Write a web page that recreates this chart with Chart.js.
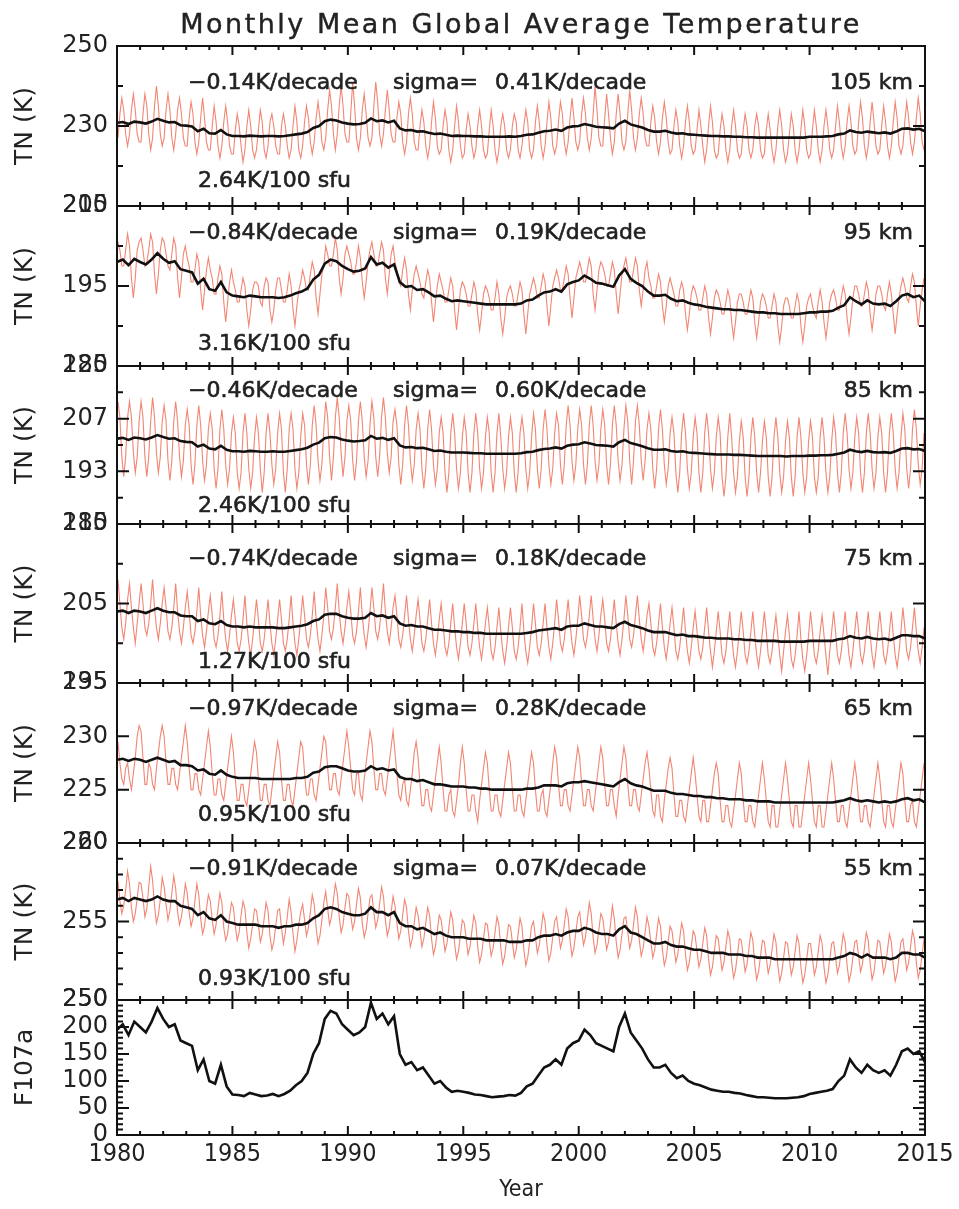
<!DOCTYPE html>
<html>
<head>
<meta charset="utf-8">
<script src="https://cdn.jsdelivr.net/npm/chart.js@4.4.0/dist/chart.umd.min.js"></script>
<style>
html, body { margin: 0; padding: 0; background: #fff; }
canvas { display: block; }
</style>
</head>
<body>
<canvas id="tnChart" width="959" height="1209"></canvas>
<script>
// panels, top to bottom
const altitudes = ['105 km', '95 km', '85 km', '75 km', '65 km', '55 km'];
const trendLabels = ['\u22120.14K/decade', '\u22120.84K/decade', '\u22120.46K/decade', '\u22120.74K/decade', '\u22120.97K/decade', '\u22120.91K/decade'];
const sigmaLabels = ['0.41K/decade', '0.19K/decade', '0.60K/decade', '0.18K/decade', '0.28K/decade', '0.07K/decade'];
const solarLabels = ['2.64K/100 sfu', '3.16K/100 sfu', '2.46K/100 sfu', '1.27K/100 sfu', '0.95K/100 sfu', '0.93K/100 sfu'];

// y tick labels per panel (last one is F107a)
const tickValues = [
  [210, 230, 250],
  [185, 195, 205],
  [180, 193.333, 206.667, 220],
  [195, 205, 215],
  [220, 225, 230, 235],
  [250, 255, 260],
  [0, 50, 100, 150, 200, 250]
];
const axisRanges = [[210, 250], [185, 205], [180, 220], [195, 215], [220, 235], [250, 260], [0, 250]];
const yearTicks = [1980, 1985, 1990, 1995, 2000, 2005, 2010, 2015];

// F10.7 81-day mean, quarterly from 1980.0
const f107a = [
  195, 205, 185, 210, 200, 190, 210, 235, 215, 200,
  205, 175, 170, 165, 120, 140, 100, 95, 130, 90,
  75, 74, 72, 78, 75, 72, 73, 76, 72, 76,
  82, 92, 100, 115, 150, 170, 215, 230, 225, 205,
  195, 185, 190, 200, 245, 215, 225, 205, 220, 150,
  130, 135, 120, 125, 110, 95, 100, 88, 80, 82,
  80, 78, 75, 74, 72, 70, 71, 72, 74, 73,
  78, 90, 95, 110, 125, 130, 140, 130, 160, 170,
  175, 195, 185, 170, 165, 160, 155, 200, 225, 190,
  175, 160, 140, 125, 125, 130, 115, 105, 110, 100,
  95, 92, 88, 84, 82, 80, 80, 78, 77, 74,
  72, 70, 70, 69, 68, 68, 68, 69, 70, 72,
  76, 78, 80, 82, 85, 100, 110, 140, 125, 115,
  130, 120, 115, 120, 110, 130, 155, 160, 150, 155,
  135
];

// black curves (fit), quarterly from 1980.0
const fit105 = [
  230.8, 231.0, 230.5, 231.1, 230.9, 230.6, 231.1, 231.8, 231.3, 230.9,
  231.0, 230.2, 230.1, 229.9, 228.7, 229.3, 228.2, 228.1, 229.0, 227.9,
  227.5, 227.5, 227.4, 227.6, 227.5, 227.4, 227.5, 227.5, 227.4, 227.5,
  227.7, 227.9, 228.1, 228.5, 229.5, 230.0, 231.2, 231.6, 231.4, 230.9,
  230.6, 230.4, 230.5, 230.8, 231.9, 231.2, 231.4, 230.9, 231.3, 229.4,
  228.9, 229.0, 228.6, 228.7, 228.3, 228.0, 228.1, 227.8, 227.5, 227.6,
  227.5, 227.5, 227.4, 227.4, 227.3, 227.3, 227.3, 227.3, 227.4, 227.3,
  227.5, 227.8, 227.9, 228.3, 228.7, 228.8, 229.1, 228.8, 229.6, 229.9,
  230.0, 230.5, 230.2, 229.8, 229.7, 229.6, 229.4, 230.6, 231.3, 230.4,
  230.0, 229.6, 229.0, 228.6, 228.6, 228.8, 228.4, 228.1, 228.2, 227.9,
  227.8, 227.7, 227.6, 227.5, 227.5, 227.4, 227.4, 227.3, 227.3, 227.2,
  227.2, 227.1, 227.1, 227.1, 227.1, 227.1, 227.1, 227.1, 227.1, 227.1,
  227.3, 227.3, 227.3, 227.4, 227.5, 227.9, 228.1, 228.9, 228.5, 228.3,
  228.6, 228.4, 228.2, 228.4, 228.1, 228.6, 229.3, 229.4, 229.1, 229.3,
  228.7
];
const fit95 = [
  198.0, 198.3, 197.6, 198.4, 198.0, 197.7, 198.3, 199.1, 198.4, 197.9,
  198.1, 197.1, 196.9, 196.7, 195.3, 195.9, 194.6, 194.4, 195.5, 194.2,
  193.8, 193.7, 193.6, 193.8, 193.7, 193.6, 193.6, 193.6, 193.5, 193.6,
  193.8, 194.1, 194.3, 194.7, 195.8, 196.4, 197.8, 198.3, 198.1, 197.5,
  197.1, 196.8, 196.9, 197.2, 198.6, 197.7, 197.9, 197.3, 197.7, 195.5,
  194.9, 195.0, 194.5, 194.6, 194.2, 193.7, 193.8, 193.4, 193.1, 193.2,
  193.1, 193.0, 192.9, 192.8, 192.7, 192.7, 192.7, 192.7, 192.7, 192.7,
  192.8, 193.2, 193.3, 193.8, 194.2, 194.3, 194.6, 194.3, 195.2, 195.5,
  195.7, 196.3, 195.9, 195.4, 195.3, 195.1, 194.9, 196.3, 197.1, 195.9,
  195.4, 195.0, 194.3, 193.8, 193.8, 193.9, 193.4, 193.1, 193.2, 192.9,
  192.7, 192.6, 192.4, 192.3, 192.2, 192.1, 192.1, 192.0, 192.0, 191.9,
  191.8, 191.7, 191.7, 191.6, 191.6, 191.5, 191.5, 191.5, 191.5, 191.6,
  191.7, 191.7, 191.8, 191.8, 191.9, 192.3, 192.6, 193.6, 193.1, 192.7,
  193.2, 192.8, 192.7, 192.8, 192.5, 193.1, 193.8, 194.0, 193.6, 193.8,
  193.1
];
const fit85 = [
  201.6, 201.8, 201.3, 201.9, 201.7, 201.4, 201.9, 202.5, 202.0, 201.6,
  201.7, 201.0, 200.8, 200.7, 199.6, 200.1, 199.1, 198.9, 199.8, 198.8,
  198.4, 198.4, 198.3, 198.5, 198.4, 198.3, 198.3, 198.4, 198.3, 198.3,
  198.5, 198.7, 198.9, 199.3, 200.1, 200.6, 201.7, 202.0, 201.9, 201.4,
  201.1, 200.9, 201.0, 201.2, 202.3, 201.6, 201.8, 201.3, 201.7, 199.9,
  199.4, 199.5, 199.2, 199.3, 198.9, 198.5, 198.6, 198.3, 198.1, 198.1,
  198.1, 198.0, 197.9, 197.9, 197.8, 197.8, 197.8, 197.8, 197.8, 197.8,
  197.9, 198.2, 198.3, 198.7, 199.0, 199.1, 199.4, 199.1, 199.8, 200.1,
  200.2, 200.7, 200.4, 200.0, 199.9, 199.8, 199.6, 200.7, 201.3, 200.5,
  200.1, 199.7, 199.2, 198.8, 198.8, 198.9, 198.5, 198.3, 198.4, 198.1,
  198.0, 197.9, 197.8, 197.7, 197.6, 197.6, 197.6, 197.5, 197.5, 197.4,
  197.3, 197.2, 197.2, 197.2, 197.2, 197.2, 197.1, 197.2, 197.2, 197.2,
  197.3, 197.3, 197.4, 197.4, 197.5, 197.8, 198.1, 198.8, 198.4, 198.2,
  198.5, 198.2, 198.1, 198.2, 198.0, 198.5, 199.1, 199.2, 198.9, 199.0,
  198.5
];
const fit75 = [
  204.0, 204.1, 203.8, 204.1, 204.0, 203.8, 204.1, 204.4, 204.1, 203.9,
  203.9, 203.5, 203.4, 203.4, 202.8, 203.0, 202.5, 202.4, 202.8, 202.3,
  202.1, 202.1, 202.0, 202.1, 202.0, 202.0, 202.0, 202.0, 201.9, 201.9,
  202.0, 202.1, 202.2, 202.4, 202.8, 203.0, 203.6, 203.7, 203.7, 203.4,
  203.2, 203.1, 203.1, 203.2, 203.8, 203.4, 203.5, 203.2, 203.4, 202.5,
  202.2, 202.3, 202.1, 202.1, 201.9, 201.7, 201.7, 201.6, 201.5, 201.5,
  201.4, 201.4, 201.3, 201.3, 201.2, 201.2, 201.2, 201.2, 201.2, 201.2,
  201.2, 201.3, 201.4, 201.6, 201.7, 201.8, 201.9, 201.7, 202.1, 202.2,
  202.2, 202.5, 202.3, 202.1, 202.1, 202.0, 201.9, 202.4, 202.7, 202.3,
  202.1, 201.9, 201.6, 201.4, 201.4, 201.4, 201.2, 201.0, 201.1, 200.9,
  200.9, 200.8, 200.7, 200.7, 200.6, 200.6, 200.6, 200.5, 200.5, 200.4,
  200.4, 200.3, 200.3, 200.3, 200.3, 200.2, 200.2, 200.2, 200.2, 200.2,
  200.3, 200.3, 200.3, 200.3, 200.3, 200.5, 200.6, 200.9, 200.7, 200.6,
  200.8, 200.6, 200.5, 200.6, 200.4, 200.7, 201.0, 201.0, 200.9, 200.9,
  200.6
];
const fit65 = [
  227.8, 227.9, 227.7, 227.9, 227.8, 227.6, 227.8, 228.0, 227.8, 227.6,
  227.7, 227.3, 227.3, 227.2, 226.8, 226.9, 226.5, 226.4, 226.8, 226.4,
  226.2, 226.1, 226.1, 226.1, 226.1, 226.0, 226.0, 226.0, 226.0, 226.0,
  226.0, 226.1, 226.1, 226.2, 226.6, 226.7, 227.1, 227.2, 227.2, 227.0,
  226.8, 226.7, 226.7, 226.8, 227.2, 226.9, 227.0, 226.8, 226.9, 226.2,
  226.0, 226.0, 225.8, 225.9, 225.7, 225.5, 225.5, 225.4, 225.3, 225.3,
  225.3, 225.2, 225.2, 225.1, 225.1, 225.0, 225.0, 225.0, 225.0, 225.0,
  225.0, 225.1, 225.1, 225.2, 225.4, 225.4, 225.4, 225.3, 225.6, 225.7,
  225.7, 225.8, 225.7, 225.6, 225.5, 225.4, 225.3, 225.7, 226.0, 225.6,
  225.4, 225.3, 225.1, 224.9, 224.9, 224.9, 224.7, 224.6, 224.6, 224.5,
  224.4, 224.4, 224.3, 224.3, 224.2, 224.2, 224.1, 224.1, 224.1, 224.0,
  224.0, 223.9, 223.9, 223.9, 223.8, 223.8, 223.8, 223.8, 223.8, 223.8,
  223.8, 223.8, 223.8, 223.8, 223.8, 223.9, 224.0, 224.2, 224.0, 223.9,
  224.0, 223.9, 223.8, 223.9, 223.8, 223.9, 224.1, 224.2, 224.0, 224.1,
  223.8
];
const fit55 = [
  256.4, 256.5, 256.3, 256.5, 256.4, 256.3, 256.4, 256.6, 256.4, 256.3,
  256.3, 256.0, 255.9, 255.8, 255.4, 255.6, 255.2, 255.1, 255.4, 255.0,
  254.9, 254.8, 254.8, 254.8, 254.8, 254.7, 254.7, 254.7, 254.6, 254.7,
  254.7, 254.8, 254.8, 254.9, 255.2, 255.4, 255.8, 255.9, 255.8, 255.6,
  255.5, 255.4, 255.4, 255.5, 255.9, 255.6, 255.6, 255.4, 255.6, 254.9,
  254.7, 254.7, 254.5, 254.6, 254.4, 254.2, 254.3, 254.1, 254.0, 254.0,
  254.0, 253.9, 253.9, 253.9, 253.8, 253.8, 253.8, 253.8, 253.7, 253.7,
  253.7, 253.8, 253.8, 254.0, 254.1, 254.1, 254.2, 254.1, 254.3, 254.4,
  254.4, 254.6, 254.5, 254.3, 254.2, 254.2, 254.1, 254.5, 254.7, 254.3,
  254.2, 254.0, 253.8, 253.6, 253.6, 253.7, 253.5, 253.4, 253.4, 253.3,
  253.2, 253.2, 253.1, 253.0, 253.0, 253.0, 252.9, 252.9, 252.9, 252.8,
  252.8, 252.7, 252.7, 252.7, 252.6, 252.6, 252.6, 252.6, 252.6, 252.6,
  252.6, 252.6, 252.6, 252.6, 252.6, 252.7, 252.8, 253.0, 252.9, 252.7,
  252.9, 252.7, 252.7, 252.7, 252.6, 252.7, 253.0, 253.0, 252.9, 252.9,
  252.7
];

// red curves: monthly means, Jan 1980 .. Dec 2014, one row per year
const monthly105 = [
  227, 233, 237, 234, 228, 225, 228, 234, 238, 234, 228, 226,
  226, 233, 238, 235, 228, 224, 227, 235, 240, 235, 228, 225,
  227, 234, 238, 234, 227, 224, 228, 234, 237, 233, 227, 225,
  225, 232, 236, 233, 226, 223, 226, 232, 237, 232, 226, 224,
  224, 230, 235, 231, 225, 222, 225, 231, 235, 231, 225, 223,
  223, 229, 233, 230, 225, 221, 224, 230, 234, 230, 224, 222,
  224, 229, 234, 231, 224, 222, 225, 231, 233, 230, 225, 223,
  223, 230, 233, 230, 225, 222, 224, 230, 235, 231, 224, 222,
  225, 231, 235, 232, 226, 223, 226, 232, 236, 232, 226, 224,
  227, 234, 239, 235, 228, 224, 228, 235, 240, 235, 228, 226,
  226, 233, 241, 235, 227, 224, 227, 234, 238, 233, 227, 225,
  227, 235, 241, 236, 228, 225, 228, 234, 239, 234, 228, 226,
  226, 232, 236, 233, 226, 223, 226, 233, 237, 233, 226, 224,
  224, 230, 234, 231, 225, 222, 225, 231, 236, 232, 225, 223,
  224, 230, 234, 231, 224, 221, 224, 230, 235, 231, 225, 222,
  223, 229, 233, 230, 225, 222, 224, 230, 234, 230, 224, 222,
  223, 229, 234, 230, 224, 221, 224, 230, 233, 230, 224, 222,
  224, 230, 233, 231, 224, 222, 225, 230, 234, 231, 224, 222,
  224, 231, 235, 231, 225, 222, 225, 231, 236, 232, 225, 223,
  225, 231, 236, 233, 226, 223, 226, 232, 237, 232, 226, 224,
  226, 233, 237, 233, 227, 224, 227, 233, 240, 234, 227, 225,
  225, 232, 238, 233, 227, 223, 226, 233, 238, 233, 226, 224,
  226, 233, 239, 234, 227, 224, 227, 233, 237, 233, 227, 225,
  225, 231, 235, 232, 226, 223, 226, 232, 236, 232, 226, 223,
  224, 230, 234, 231, 225, 222, 225, 231, 235, 231, 225, 223,
  224, 229, 234, 230, 225, 221, 224, 230, 235, 231, 224, 222,
  223, 229, 233, 230, 224, 221, 224, 230, 234, 230, 224, 222,
  223, 229, 233, 230, 224, 222, 224, 230, 233, 230, 224, 222,
  223, 229, 233, 229, 224, 221, 224, 230, 234, 230, 224, 221,
  223, 228, 233, 230, 224, 221, 224, 229, 234, 230, 224, 222,
  223, 229, 234, 230, 224, 221, 224, 230, 234, 230, 224, 222,
  224, 230, 235, 231, 225, 222, 225, 231, 235, 231, 225, 223,
  224, 231, 236, 232, 225, 222, 225, 231, 236, 231, 225, 223,
  224, 230, 235, 231, 225, 222, 225, 231, 236, 232, 225, 223,
  225, 231, 236, 232, 226, 223, 226, 232, 237, 233, 226, 224
];
const monthly95 = [
  200.5, 199.5, 197.5, 197.5, 199.5, 201.5, 200, 196, 193.5, 196, 199.5, 200.5,
  201, 199.5, 197.5, 198, 199.5, 201.5, 200.5, 196.5, 194, 196.5, 199.5, 201,
  200.5, 199, 197.5, 197, 199, 201, 200, 196, 193.5, 196, 199, 200,
  198.5, 197.5, 195.5, 195.5, 197, 199, 198, 194.5, 192, 194.5, 197, 198.5,
  197, 196, 194, 194, 196, 197.5, 196.5, 193, 190.5, 193, 195.5, 197,
  195.5, 194.5, 193, 193, 194.5, 196, 195, 192, 190, 192, 194.5, 195.5,
  195.5, 195, 193, 192.5, 195, 196, 195.5, 192, 190.5, 192, 194.5, 196,
  196, 194.5, 193, 193, 194.5, 196.5, 195, 192, 190, 192.5, 194.5, 195.5,
  197, 196, 194.5, 194.5, 196.5, 198, 197, 193.5, 191.5, 194, 196.5, 197.5,
  200, 199, 197.5, 197.5, 199, 201, 199.5, 196, 194, 196, 199, 200,
  199, 198, 196.5, 196.5, 198, 200, 198.5, 195.5, 193.5, 195.5, 198, 199.5,
  200.5, 199, 197.5, 197.5, 199, 200.5, 199.5, 196, 194, 196.5, 199, 200,
  198, 197, 195.5, 195, 197, 198.5, 197, 194, 192, 194.5, 196.5, 197.5,
  196.5, 195.5, 194, 193.5, 195.5, 197, 196, 193, 190.5, 193, 195, 196.5,
  195.5, 194.5, 193, 193, 194.5, 196, 195, 192, 189.5, 192, 194.5, 195.5,
  195, 194, 192.5, 192.5, 194, 195.5, 194.5, 191.5, 189.5, 191.5, 194, 195,
  194.5, 193.5, 192, 192, 193.5, 195.5, 194, 191, 189, 191, 193.5, 194.5,
  195, 194, 192.5, 192.5, 194, 195.5, 194.5, 191.5, 189, 191.5, 194, 195,
  196, 195, 193.5, 193.5, 195, 196.5, 195.5, 192.5, 190, 192.5, 195, 196,
  197, 196, 194.5, 194.5, 196, 197.5, 196.5, 193.5, 191, 193.5, 196, 197,
  198, 197, 195.5, 195.5, 197, 198.5, 197.5, 194, 192, 194.5, 197, 198,
  197.5, 196.5, 195, 195, 196.5, 198, 197, 194, 191.5, 194, 196.5, 197.5,
  198.5, 197, 195.5, 195.5, 197, 198.5, 197.5, 194.5, 192.5, 194.5, 197, 198,
  196, 195, 193.5, 193.5, 195, 196.5, 195.5, 192.5, 190.5, 192.5, 195, 196,
  195, 194, 192.5, 192.5, 194.5, 195.5, 194.5, 191.5, 189.5, 191.5, 194, 195,
  194.5, 193.5, 192, 192, 193.5, 195, 194, 191, 189, 191, 193.5, 194.5,
  194, 193, 191.5, 191.5, 193, 194.5, 193.5, 190.5, 188.5, 190.5, 193, 194,
  194, 193, 191.5, 191.5, 193, 194.5, 193.5, 190.5, 188.5, 190.5, 193, 194,
  193.5, 192.5, 191, 191, 192.5, 194, 193, 190, 188, 190, 192.5, 193.5,
  193.5, 192.5, 191, 191, 192.5, 194, 193, 190, 188, 190, 192.5, 193.5,
  194, 192.5, 191.5, 191, 193, 194.5, 193, 190.5, 188.5, 190.5, 193, 194,
  194.5, 193.5, 192, 192, 193.5, 195, 194, 191, 189, 191, 193.5, 195,
  195, 194, 192.5, 192.5, 194, 195.5, 194.5, 191.5, 189.5, 191.5, 194, 195,
  195, 194, 192.5, 192, 194, 195.5, 194, 191.5, 189, 191.5, 193.5, 195,
  196, 195, 193.5, 193, 195, 196.5, 195.5, 192.5, 190, 192.5, 194.5, 196
];
const monthly85 = [
  211, 207, 197, 192, 197, 207, 211, 207, 198, 193, 197, 206,
  211, 207, 197, 192, 197, 206, 212, 207, 198, 193, 197, 206,
  210, 206, 196, 191, 196, 206, 211, 206, 197, 192, 196, 205,
  209, 205, 195, 190, 195, 205, 210, 205, 196, 191, 195, 204,
  208, 204, 194, 189, 194, 204, 209, 204, 195, 190, 194, 203,
  207, 203, 193, 189, 193, 203, 208, 203, 194, 189, 193, 202,
  207, 203, 194, 188, 193, 203, 208, 203, 195, 190, 194, 203,
  208, 204, 193, 188, 194, 204, 208, 204, 194, 189, 193, 202,
  208, 205, 195, 190, 195, 205, 210, 205, 196, 191, 195, 204,
  211, 207, 197, 191, 197, 207, 212, 207, 198, 192, 197, 206,
  210, 206, 196, 191, 196, 206, 211, 206, 197, 192, 196, 205,
  211, 207, 197, 192, 197, 207, 212, 207, 198, 193, 197, 206,
  209, 205, 195, 190, 195, 205, 210, 205, 196, 191, 195, 204,
  208, 204, 194, 189, 194, 204, 209, 204, 195, 190, 194, 203,
  207, 203, 193, 188, 193, 203, 208, 203, 194, 189, 193, 202,
  207, 203, 193, 188, 193, 203, 208, 203, 194, 189, 193, 202,
  207, 203, 193, 188, 193, 203, 208, 202, 194, 189, 193, 202,
  207, 203, 193, 188, 193, 203, 207, 203, 194, 189, 193, 202,
  208, 204, 194, 189, 194, 204, 209, 204, 195, 190, 194, 203,
  208, 205, 195, 190, 195, 205, 210, 205, 196, 191, 195, 204,
  209, 205, 195, 190, 195, 205, 210, 205, 196, 191, 195, 204,
  209, 205, 195, 190, 195, 205, 210, 205, 196, 191, 195, 204,
  210, 206, 196, 190, 196, 206, 210, 205, 196, 191, 196, 204,
  208, 204, 194, 189, 194, 204, 209, 204, 195, 190, 194, 203,
  207, 203, 193, 188, 193, 203, 208, 203, 194, 189, 193, 202,
  207, 203, 193, 188, 193, 203, 208, 203, 194, 189, 193, 202,
  207, 203, 192, 187, 192, 202, 208, 202, 193, 188, 192, 201,
  206, 202, 192, 187, 192, 202, 207, 202, 193, 188, 193, 201,
  206, 202, 192, 187, 192, 202, 207, 202, 193, 188, 192, 201,
  206, 202, 192, 187, 192, 202, 207, 202, 193, 188, 192, 201,
  206, 202, 192, 188, 192, 202, 207, 202, 193, 188, 192, 201,
  207, 203, 193, 188, 193, 203, 208, 203, 194, 189, 193, 202,
  207, 203, 193, 188, 193, 203, 208, 203, 194, 189, 193, 202,
  207, 203, 193, 188, 193, 203, 208, 203, 194, 189, 193, 202,
  208, 204, 194, 189, 194, 204, 209, 204, 195, 190, 194, 203
];
const monthly75 = [
  208, 205, 202, 200.5, 202.5, 205.5, 207.5, 204.5, 202, 200, 202.5, 205,
  207.5, 205, 202, 201, 202.5, 205, 208, 204.5, 202, 200.5, 202.5, 205,
  207, 204.5, 201.5, 200.5, 202, 204.5, 207.5, 204, 201.5, 200, 202, 204.5,
  206.5, 204, 201, 200, 201.5, 204, 207, 203.5, 201, 199.5, 201.5, 204,
  206, 203.5, 200.5, 199.5, 201, 203.5, 206.5, 203, 200.5, 199, 201, 203.5,
  205.5, 203, 200, 199, 200.5, 203, 206, 202.5, 200, 198.5, 200.5, 203,
  205.5, 203, 200, 199, 200.5, 203, 205.5, 202.5, 200, 198.5, 200.5, 203,
  205.5, 203, 200, 199, 200.5, 203, 206, 202.5, 200, 198.5, 200.5, 203,
  206, 203.5, 200.5, 199.5, 201, 203.5, 206.5, 203, 200.5, 199, 201, 203.5,
  207, 204.5, 201.5, 200.5, 202, 204.5, 207.5, 204, 201.5, 200, 202, 204.5,
  206.5, 204, 201, 200, 201.5, 204, 207, 203.5, 201, 199.5, 201.5, 204,
  207, 204.5, 201.5, 200.5, 202, 204.5, 207.5, 204, 201.5, 200, 202, 204.5,
  206, 203.5, 200.5, 199.5, 201, 203.5, 206, 203, 200.5, 199, 201, 203.5,
  205.5, 203, 200, 199, 200.5, 203, 205.5, 202.5, 200, 198.5, 200.5, 203,
  205, 202.5, 199.5, 198.5, 200, 202.5, 205, 202, 199.5, 198, 200, 202.5,
  205, 202.5, 199.5, 198.5, 200, 202.5, 205, 202, 199.5, 198, 200, 202.5,
  204.5, 202, 199, 198, 199.5, 202, 204.5, 201.5, 199, 197.5, 199.5, 202,
  204.5, 202, 199, 198, 199.5, 202, 205, 201.5, 199, 197.5, 199.5, 202,
  205, 202.5, 199.5, 198.5, 200, 202.5, 205, 202, 199.5, 198, 200, 202.5,
  205.5, 203, 200, 199, 200.5, 203, 205.5, 202.5, 200, 198.5, 200.5, 203,
  206, 203.5, 200.5, 199.5, 201, 203.5, 206, 203, 200.5, 199, 201, 203.5,
  205.5, 203, 200, 199, 200.5, 203, 205.5, 202.5, 200, 198.5, 200.5, 203,
  206, 203.5, 200.5, 199.5, 201, 203.5, 206, 203, 200.5, 199, 201, 203.5,
  205, 202.5, 199.5, 198.5, 200, 202.5, 205, 202, 199.5, 198, 200, 202.5,
  204.5, 202, 199, 198, 199.5, 202, 204.5, 201.5, 199, 197.5, 199.5, 202,
  204, 201.5, 199, 198, 199.5, 202, 204.5, 201.5, 199, 197, 199, 201.5,
  204, 201.5, 198.5, 197.5, 199, 201.5, 204, 201, 198.5, 197, 199, 201.5,
  204, 201.5, 198.5, 197.5, 199, 201.5, 204, 201, 198.5, 197, 199, 201.5,
  204, 201.5, 198.5, 197.5, 199, 201.5, 203.5, 201, 198.5, 196.5, 199, 201.5,
  203.5, 201, 198, 197, 198.5, 201, 204, 200.5, 198, 196.5, 198.5, 201,
  204, 201.5, 198.5, 197.5, 199, 201.5, 203.5, 201, 198.5, 196, 199, 201.5,
  204, 201.5, 198.5, 197.5, 199, 201.5, 204, 201, 198.5, 197, 199, 201.5,
  204, 201.5, 198.5, 197.5, 199, 201.5, 204, 201, 198.5, 197, 199, 201.5,
  204, 201.5, 198.5, 197.5, 199, 201.5, 204, 201, 198.5, 197, 199, 201.5,
  204.5, 202, 199, 198, 199.5, 202, 204.5, 201.5, 199, 197.5, 199.5, 202
];
const monthly65 = [
  229.5, 227.5, 226, 225.5, 227, 227.5, 226, 225, 226.5, 228, 230, 231,
  230.5, 228, 225.5, 225.5, 227.5, 227, 225.5, 225, 227, 228.5, 230, 231,
  230, 227.5, 225.5, 225.5, 227, 227, 225.5, 225, 226.5, 228, 229.5, 231,
  229.5, 227, 225, 225, 226.5, 226.5, 225, 224.5, 226, 227.5, 229, 230.5,
  229, 226.5, 224.5, 224.5, 226, 226, 224.5, 224, 225.5, 227, 228.5, 230,
  228.5, 226, 224, 224, 225.5, 225.5, 224, 223.5, 225, 226.5, 228, 229.5,
  228.5, 226, 224, 224, 225.5, 225.5, 224, 223.5, 225, 226.5, 228, 229.5,
  228.5, 226, 224, 224, 225.5, 225.5, 224, 223.5, 225, 226.5, 228, 229.5,
  229, 226.5, 224.5, 224.5, 226, 226, 224.5, 224, 225.5, 227, 228.5, 230,
  229.5, 227, 225, 225, 226.5, 226.5, 225, 224.5, 226, 227.5, 229, 230.5,
  229, 227, 225, 224.5, 226.5, 226.5, 224.5, 224, 226, 227.5, 229, 230.5,
  229.5, 227, 225, 225, 226.5, 226.5, 225, 224.5, 226, 227.5, 229, 230.5,
  228.5, 226.5, 224.5, 224, 225.5, 226, 224, 223.5, 225, 226.5, 228.5, 229.5,
  228, 225.5, 223.5, 223.5, 225, 225, 223.5, 223, 224.5, 226, 227.5, 229,
  227.5, 225, 223, 223, 224.5, 225, 223, 222.5, 224, 225.5, 227.5, 229,
  227.5, 225, 223, 223, 224.5, 224.5, 223, 222, 224, 225.5, 227, 228.5,
  227.5, 225, 223, 223, 224.5, 224.5, 223, 222.5, 224, 225.5, 227, 228.5,
  227.5, 225, 223, 223, 224.5, 224.5, 223, 222.5, 224, 225.5, 227, 228.5,
  227.5, 225, 223, 223, 224.5, 225, 223, 222.5, 224, 225.5, 227.5, 229,
  228, 225.5, 223.5, 223.5, 225, 225, 223.5, 223, 224.5, 226, 227.5, 229,
  228, 225.5, 223.5, 223.5, 225, 225, 223.5, 223, 224.5, 226, 227.5, 229,
  228, 225.5, 223.5, 223.5, 225, 225, 223.5, 222.5, 224.5, 226, 227.5, 229,
  228, 225.5, 223.5, 223.5, 225, 225, 223.5, 223, 224.5, 226, 227.5, 228.5,
  227, 225, 223, 222.5, 224.5, 224.5, 222.5, 222, 224, 225.5, 227, 228,
  227, 224.5, 222.5, 222.5, 224, 224, 222.5, 222, 223.5, 225, 226.5, 228,
  226.5, 224.5, 222.5, 222, 224, 224, 222, 222, 223.5, 225, 226.5, 227.5,
  226.5, 224, 222, 222, 223.5, 223.5, 222, 221.5, 223, 224.5, 226, 227.5,
  226.5, 224, 222, 222, 223.5, 223.5, 222, 221.5, 223, 224.5, 226, 227.5,
  226, 224, 222, 221.5, 223.5, 223.5, 221.5, 221.5, 223, 224.5, 226, 227.5,
  226, 224, 222, 221.5, 223.5, 223.5, 221.5, 221.5, 223, 224.5, 226, 227.5,
  226, 224, 222, 221.5, 223.5, 223.5, 221.5, 221.5, 223, 224.5, 226, 227.5,
  226, 224, 222, 222, 223.5, 223.5, 222, 221.5, 223, 224.5, 226, 227.5,
  226, 224, 222, 222, 223.5, 223.5, 222, 221.5, 223, 224.5, 226, 227.5,
  226, 224, 222, 221.5, 223.5, 223.5, 222, 221.5, 223, 224.5, 226, 227.5,
  226.5, 224, 222, 222, 223.5, 224, 222, 221.5, 223, 224.5, 226, 227.5
];
const monthly55 = [
  257.6, 256.3, 255.5, 256.0, 257.0, 258.2, 257.4, 255.9, 255.0, 255.5, 256.5, 257.5,
  257.4, 256.5, 255.3, 255.8, 257.2, 258.5, 257.6, 256.0, 254.9, 255.4, 256.4, 257.8,
  257.2, 256.1, 255.1, 255.7, 256.8, 257.9, 257.1, 255.6, 254.8, 255.3, 256.2, 257.4,
  256.8, 255.6, 254.7, 255.2, 256.3, 257.4, 256.7, 255.2, 254.2, 254.7, 255.8, 256.7,
  256.3, 255.1, 254.2, 254.8, 255.8, 256.8, 256.2, 254.6, 253.8, 254.2, 255.3, 256.2,
  255.9, 254.7, 253.8, 254.3, 255.4, 256.3, 255.8, 254.3, 253.3, 253.9, 254.8, 255.8,
  255.7, 254.8, 253.7, 254.2, 255.2, 256.2, 255.7, 254.1, 253.2, 253.7, 254.7, 255.7,
  255.8, 254.6, 253.6, 254.3, 255.3, 256.4, 255.6, 254.2, 253.1, 253.8, 254.8, 255.6,
  256.1, 255.1, 254.1, 254.6, 255.6, 256.7, 256.1, 254.6, 253.6, 254.1, 255.1, 256.2,
  256.9, 255.8, 254.8, 255.3, 256.4, 257.4, 256.8, 255.3, 254.3, 254.8, 255.9, 256.8,
  256.6, 255.4, 254.5, 255.0, 256.1, 257.1, 256.5, 254.9, 254.0, 254.5, 255.5, 256.5,
  256.7, 255.6, 254.6, 255.1, 256.1, 257.2, 256.6, 255.1, 254.1, 254.6, 255.6, 256.6,
  256.0, 254.9, 253.9, 254.4, 255.4, 256.4, 255.9, 254.4, 253.4, 253.9, 254.9, 255.9,
  255.4, 254.4, 253.4, 253.9, 254.9, 255.9, 255.4, 253.9, 252.9, 253.4, 254.4, 255.4,
  255.1, 254.1, 253.1, 253.6, 254.6, 255.6, 255.1, 253.6, 252.6, 253.1, 254.1, 255.1,
  254.9, 253.9, 252.9, 253.4, 254.4, 255.4, 254.9, 253.4, 252.4, 252.9, 253.9, 254.9,
  254.8, 253.8, 252.8, 253.3, 254.3, 255.3, 254.8, 253.3, 252.3, 252.8, 253.8, 254.8,
  254.7, 253.7, 252.7, 253.2, 254.2, 255.2, 254.7, 253.2, 252.2, 252.7, 253.7, 254.7,
  255.0, 254.0, 253.0, 253.5, 254.5, 255.5, 255.0, 253.5, 252.5, 253.0, 254.0, 255.0,
  255.3, 254.3, 253.3, 253.8, 254.8, 255.8, 255.3, 253.8, 252.8, 253.3, 254.3, 255.3,
  255.6, 254.5, 253.5, 254.0, 255.1, 256.2, 255.5, 254.0, 253.0, 253.5, 254.5, 255.5,
  255.2, 254.2, 253.2, 253.7, 254.8, 256.0, 255.2, 253.7, 252.7, 253.2, 254.2, 255.2,
  255.3, 254.3, 253.3, 253.8, 254.8, 255.9, 255.3, 253.8, 252.8, 253.3, 254.3, 255.3,
  254.7, 253.7, 252.7, 253.2, 254.2, 255.2, 254.7, 253.2, 252.2, 252.7, 253.7, 254.7,
  254.4, 253.4, 252.4, 252.9, 253.9, 254.9, 254.4, 252.9, 251.9, 252.4, 253.4, 254.4,
  254.1, 253.1, 252.1, 252.6, 253.6, 254.6, 254.1, 252.6, 251.6, 252.1, 253.1, 254.1,
  253.9, 252.9, 251.9, 252.4, 253.4, 254.4, 253.9, 252.4, 251.4, 251.9, 252.9, 253.9,
  253.8, 252.8, 251.8, 252.3, 253.3, 254.3, 253.8, 252.3, 251.3, 251.8, 252.8, 253.8,
  253.7, 252.7, 251.7, 252.2, 253.2, 254.2, 253.7, 252.2, 251.2, 251.7, 252.7, 253.7,
  253.6, 252.6, 251.6, 252.1, 253.1, 254.1, 253.6, 252.1, 251.1, 251.6, 252.6, 253.6,
  253.6, 252.6, 251.6, 252.1, 253.1, 254.1, 253.6, 252.1, 251.1, 251.6, 252.6, 253.6,
  253.7, 252.7, 251.7, 252.2, 253.2, 254.2, 253.7, 252.2, 251.2, 251.7, 252.7, 253.7,
  253.8, 252.8, 251.8, 252.3, 253.3, 254.3, 253.8, 252.3, 251.3, 251.8, 252.8, 253.8,
  253.7, 252.7, 251.7, 252.2, 253.2, 254.2, 253.7, 252.2, 251.2, 251.7, 252.7, 253.7,
  253.9, 252.9, 251.9, 252.4, 253.4, 254.4, 253.9, 252.4, 251.4, 251.9, 252.9, 253.9
];

const monthlySeries = [monthly105, monthly95, monthly85, monthly75, monthly65, monthly55];
const fitSeries = [fit105, fit95, fit85, fit75, fit65, fit55];

const axisIds = ['y105', 'y95', 'y85', 'y75', 'y65', 'y55', 'yF'];
const panelWeight = [160, 160, 158, 159, 160, 157, 135];
const minorStep = [10, 5, 20 / 3, 5, 5, 1, 10];
const topTextOffset = [37, 27, 25, 35, 26, 26];
const bottomTextOffset = [25, 22, 18, 21, 28, 21];

function monthlyPoints(arr) { return arr.map((v, i) => ({ x: 1980 + (i + 0.5) / 12, y: v })); }
function quarterPoints(arr) { return arr.map((v, i) => ({ x: 1980 + i / 4, y: v })); }

const datasets = [];
fitSeries.forEach((s, p) => datasets.push({
  data: quarterPoints(s), yAxisID: axisIds[p], borderColor: '#111', borderWidth: 2.6, order: 0
}));
datasets.push({ data: quarterPoints(f107a), yAxisID: 'yF', borderColor: '#111', borderWidth: 2.6, order: 0 });
monthlySeries.forEach((s, p) => datasets.push({
  data: monthlyPoints(s), yAxisID: axisIds[p], borderColor: 'rgba(240,112,90,0.85)', borderWidth: 1.1, order: 1
}));

const scales = {
  x: {
    type: 'linear', position: 'bottom', min: 1980, max: 2015,
    grid: { display: false, drawTicks: false }, border: { display: false },
    afterBuildTicks: s => { s.ticks = yearTicks.map(v => ({ value: v })); },
    afterFit: s => { s.height = 74; },
    ticks: {
      padding: 4, autoSkip: false, maxRotation: 0, color: '#222',
      font: { family: "'Liberation Sans Narrow', 'DejaVu Sans Condensed', 'DejaVu Sans'", size: 25 },
      callback: v => String(v)
    },
    title: {
      display: true, text: 'Year', color: '#222',
      font: { family: "'Liberation Sans Narrow', 'DejaVu Sans Condensed', 'DejaVu Sans'", size: 23 },
      padding: { top: 0, bottom: 5 }
    }
  }
};
// stacked y axes, defined bottom to top
for (let p = 6; p >= 0; p--) {
  scales[axisIds[p]] = {
    type: 'linear', position: 'left', stack: 'panels', stackWeight: panelWeight[p],
    min: axisRanges[p][0], max: axisRanges[p][1],
    grid: { display: false, drawTicks: false }, border: { display: false },
    afterBuildTicks: s => { s.ticks = tickValues[p].map(v => ({ value: v })); },
    afterFit: s => { s.width = 117; },
    ticks: {
      padding: 9, autoSkip: false, color: '#222',
      font: { family: 'DejaVu Sans', size: 24 },
      callback: v => String(Math.round(v))
    },
    title: {
      display: true, text: p < 6 ? 'TN (K)' : 'F107a', color: '#222',
      font: { family: 'DejaVu Sans', size: 25 },
      padding: { top: 10, bottom: 0 }
    }
  };
}

const panelDecor = {
  id: 'panelDecor',
  afterDatasetsDraw(chart) {
    const { ctx, chartArea: area, scales: sc } = chart;
    const xs = sc.x;
    ctx.save();
    ctx.strokeStyle = '#111';
    ctx.lineWidth = 2;
    axisIds.forEach((id, p) => {
      const s = sc[id];
      ctx.strokeRect(area.left, s.top, area.right - area.left, s.bottom - s.top);
      ctx.beginPath();
      for (let yr = 1980; yr <= 2015; yr++) {
        const px = xs.getPixelForValue(yr);
        const len = yr % 5 === 0 ? 9 : 4;
        ctx.moveTo(px, s.top); ctx.lineTo(px, s.top + len);
        ctx.moveTo(px, s.bottom); ctx.lineTo(px, s.bottom - len);
      }
      const [lo, hi] = axisRanges[p];
      for (let v = lo; v <= hi + 1e-6; v += minorStep[p]) {
        const py = s.getPixelForValue(v);
        const major = tickValues[p].some(t => Math.abs(t - v) < 0.01);
        const len = major ? 12 : 6;
        ctx.moveTo(area.left, py); ctx.lineTo(area.left + len, py);
        ctx.moveTo(area.right, py); ctx.lineTo(area.right - len, py);
      }
      ctx.stroke();
    });

    // annotation text, slightly stroked to get the medium weight of the original
    ctx.fillStyle = '#222';
    ctx.strokeStyle = '#222';
    ctx.lineWidth = 0.6;
    ctx.textBaseline = 'middle';
    ctx.font = '22px "DejaVu Sans"';
    const put = (txt, x, y) => { ctx.fillText(txt, x, y); ctx.strokeText(txt, x, y); };
    altitudes.forEach((alt, p) => {
      const s = sc[axisIds[p]];
      const yt = s.top + topTextOffset[p];
      ctx.textAlign = 'left';
      put(trendLabels[p], 188, yt);
      put('sigma=', 393, yt);
      put(sigmaLabels[p], 495, yt);
      put(solarLabels[p], 198, s.bottom - bottomTextOffset[p]);
      ctx.textAlign = 'right';
      put(alt, 913, yt);
    });

    ctx.font = '27px "DejaVu Sans"';
    ctx.letterSpacing = '2.5px';
    ctx.lineWidth = 0.4;
    ctx.textAlign = 'center';
    ctx.textBaseline = 'alphabetic';
    put('Monthly Mean Global Average Temperature', (area.left + area.right) / 2, 33);
    ctx.restore();
  }
};

new Chart(document.getElementById('tnChart').getContext('2d'), {
  type: 'line',
  data: { datasets },
  options: {
    responsive: false,
    animation: false,
    devicePixelRatio: 1,
    elements: { point: { radius: 0 }, line: { tension: 0 } },
    layout: { padding: { left: 0, right: 34, top: 46, bottom: 0 } },
    plugins: { legend: { display: false }, tooltip: { enabled: false } },
    scales
  },
  plugins: [panelDecor]
});
</script>
</body>
</html>
